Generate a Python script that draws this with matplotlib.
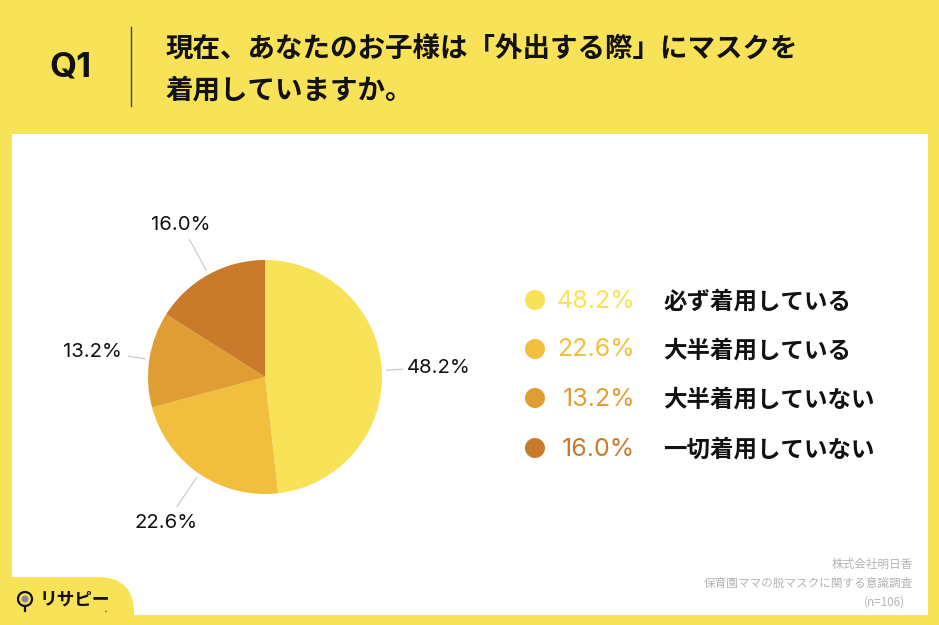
import numpy as np
import matplotlib
matplotlib.use("Agg")
import matplotlib.pyplot as plt
from matplotlib.patches import Rectangle, Circle, FancyBboxPatch

W, H = 939, 625
JP = ["Noto Sans CJK JP", "DejaVu Sans"]
LAT = ["Inter", "Noto Sans CJK JP"]

categories = ["必ず着用している", "大半着用している", "大半着用していない", "一切着用していない"]
values = [48.2, 22.6, 13.2, 16.0]
colors = ["#F7E258", "#F2BE3E", "#E09D33", "#C97A2B"]
value_labels = ["48.2%", "22.6%", "13.2%", "16.0%"]
title_lines = ["現在、あなたのお子様は「外出する際」にマスクを", "着用していますか。"]
source_lines = ["株式会社明日香", "保育園ママの脱マスクに関する意識調査", "(n=106)"]

fig = plt.figure(figsize=(W / 100, H / 100), dpi=100, facecolor="#F7E258")
bg = fig.add_axes([0, 0, 1, 1])
bg.set_xlim(0, W)
bg.set_ylim(H, 0)
bg.axis("off")

# white panel and logo tab
bg.add_patch(Rectangle((12, 134), 916, 480.5, fc="white", ec="none"))
bg.add_patch(FancyBboxPatch((-40, 577), 174, 90, boxstyle="round,pad=0,rounding_size=36",
                            fc="#F7E258", ec="none"))

# header
bg.text(70, 68, "Q1", fontsize=25, fontweight="bold", family=LAT, ha="center", va="center", color="#111111")
bg.plot([131, 131], [27, 106], color="#444444", lw=1)
for y, line in zip([50, 91], title_lines):
    bg.text(166, y, line, fontsize=19.8, fontweight="bold", family=JP, ha="left", va="center", color="#111111")

# logo
bg.add_patch(Circle((25, 599), 7, fc="none", ec="#111111", lw=1.6))
bg.add_patch(Circle((25, 599), 3.5, fc="#888899", ec="none"))
bg.plot([25, 25], [606, 611], color="#111111", lw=1.6)
bg.text(40, 600, "リサピー", fontsize=12.7, fontweight="bold", family=JP, ha="left", va="center", color="#111111")
bg.add_patch(Circle((106, 611.5), 0.8, fc="#555555", ec="none"))

# legend
legend_y = [300, 349, 398, 448]
for y, c, vl, cat in zip(legend_y, colors, value_labels, categories):
    bg.add_patch(Circle((535, y), 10, fc=c, ec="none"))
    bg.text(635, y + 1, vl, fontsize=18, family=LAT, ha="right", va="center", color=c)
    bg.text(663, y + 2, cat, fontsize=16.9, fontweight="bold", family=JP, ha="left", va="center", color="#111111")

# source note
for y, line in zip([564, 583, 602], source_lines):
    x = 913 if not line.startswith("(") else 905
    bg.text(x, y, line, fontsize=8.4, family=JP, ha="right", va="center", color="#B4B4B4")

# pie
cx, cy, R = 265, 377, 117
ax = fig.add_axes([(cx - 1.5 * R) / W, 1 - (cy + 1.5 * R) / H, 3 * R / W, 3 * R / H])
ax.pie(values, colors=colors, startangle=90, counterclock=False, radius=1,
       wedgeprops={"linewidth": 0})
ax.set_aspect("equal")
ax.axis("off")
ax.set_xlim(-1.5, 1.5)
ax.set_ylim(-1.5, 1.5)

leader_end = [1.18, 1.34, 1.18, 1.34]
label_offset = [(174, -9), (-99, 146), (-173, -25), (-84, -152)]
cum = 0.0
for v, vl, r2, (dx, dy) in zip(values, value_labels, leader_end, label_offset):
    mid = np.deg2rad(90 - (cum + v / 2) * 3.6)
    cum += v
    ax.plot([1.04 * np.cos(mid), r2 * np.cos(mid)], [1.04 * np.sin(mid), r2 * np.sin(mid)],
            color="#CCCCCC", lw=0.9, clip_on=False)
    bg.text(cx + dx, cy + dy, vl, fontsize=14.6, family=LAT, ha="center", va="center", color="#111111")

fig.savefig("out.png", dpi=100, facecolor=fig.get_facecolor())
